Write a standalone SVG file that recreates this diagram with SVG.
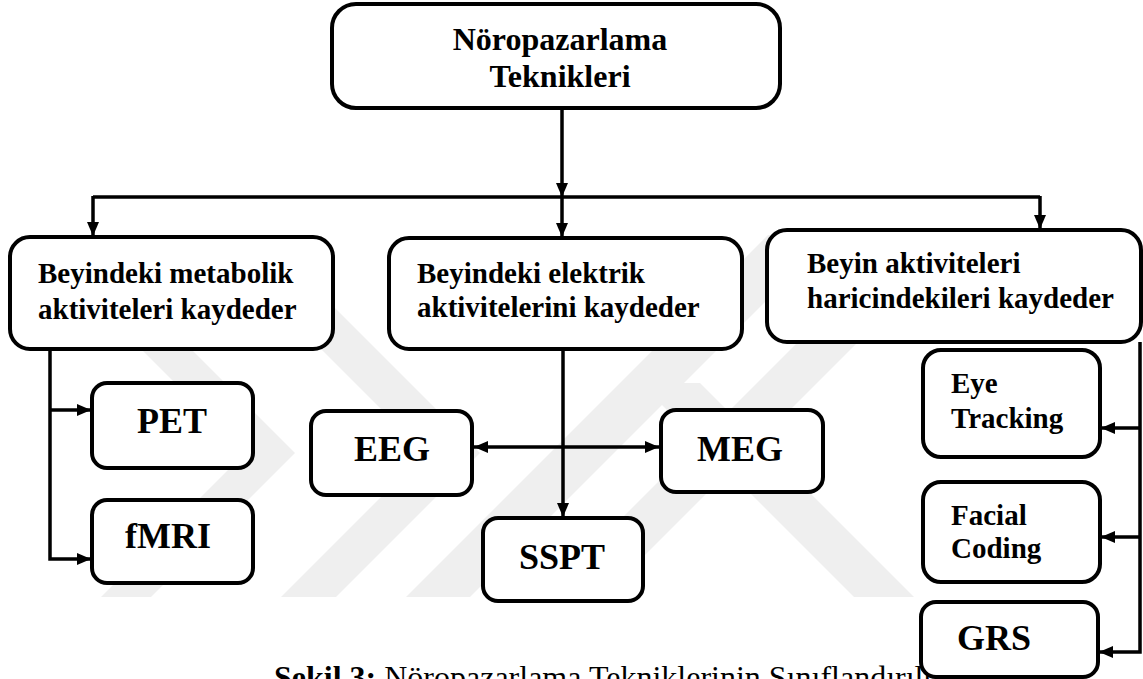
<svg xmlns="http://www.w3.org/2000/svg" width="1143" height="679" viewBox="0 0 1143 679">
<defs>
<style>
.box{fill:#fff;stroke:#000;stroke-width:4}
.wm{fill:#efefef}
.ln{fill:none;stroke:#000;stroke-width:3.5}
.t{font-family:"Liberation Serif","Times New Roman",serif;font-weight:bold;fill:#000}
.g{font-size:29px}
.big{font-size:36px;text-anchor:middle}
.m{font-size:29px}
.cap{font-family:"Liberation Serif","Times New Roman",serif;font-size:32px;fill:#000}
</style>
<marker id="ah" markerWidth="14" markerHeight="12" refX="14" refY="6" orient="auto-start-reverse" markerUnits="userSpaceOnUse">
<path d="M0,0 L14,6 L0,12 z" fill="#000"/>
</marker>
</defs>
<rect width="1143" height="679" fill="#fff"/>
<g id="watermark">
<polygon class="wm" points="27,235 77,235 295,453 151,597 101,597 245,453"/>
<polygon class="wm" points="207,235 262,235 480,453 336,597 281,597 425,453"/>
<polygon class="wm" points="768,235 832,235 470,597 406,597"/>
<polygon class="wm" points="905,235 965,235 603,597 543,597"/>
<polygon class="wm" points="640,383 700,383 914,597 854,597"/>
</g>
<text class="cap" x="274" y="688"><tspan font-weight="bold">Şekil 3:</tspan> Nöropazarlama Tekniklerinin Sınıflandırılması</text>
<g id="connectors">
<line class="ln" x1="562" y1="108" x2="562" y2="197" marker-end="url(#ah)"/>
<line class="ln" x1="93" y1="197" x2="1040" y2="197"/>
<line class="ln" x1="562" y1="197" x2="562" y2="237" marker-end="url(#ah)"/>
<line class="ln" x1="93" y1="196" x2="93" y2="236" marker-end="url(#ah)"/>
<line class="ln" x1="1040" y1="196" x2="1040" y2="229" marker-end="url(#ah)"/>
<polyline class="ln" points="50,349 50,559 91,559" marker-end="url(#ah)"/>
<line class="ln" x1="50" y1="410" x2="91" y2="410" marker-end="url(#ah)"/>
<line class="ln" x1="563" y1="349" x2="563" y2="517" marker-end="url(#ah)"/>
<line class="ln" x1="474" y1="447" x2="659" y2="447" marker-start="url(#ah)" marker-end="url(#ah)"/>
<polyline class="ln" points="1140,342 1140,652 1099,652" marker-end="url(#ah)"/>
<line class="ln" x1="1140" y1="428" x2="1101" y2="428" marker-end="url(#ah)"/>
<line class="ln" x1="1140" y1="537" x2="1101" y2="537" marker-end="url(#ah)"/>
</g>
<g id="n-top">
<rect class="box" x="332" y="4" width="448" height="104" rx="24"/>
<text class="t" x="560" y="50" font-size="32" text-anchor="middle">Nöropazarlama</text>
<text class="t" x="560" y="87" font-size="32" text-anchor="middle">Teknikleri</text>
</g>
<g id="n-metabolik">
<rect class="box" x="10" y="237" width="323" height="112" rx="20"/>
<text class="t g" x="38" y="283">Beyindeki metabolik</text>
<text class="t g" x="38" y="319">aktiviteleri kaydeder</text>
</g>
<g id="n-elektrik">
<rect class="box" x="389" y="238" width="353" height="111" rx="20"/>
<text class="t g" x="417" y="283">Beyindeki elektrik</text>
<text class="t g" x="417" y="317">aktivitelerini kaydeder</text>
</g>
<g id="n-haricinde">
<rect class="box" x="767" y="230" width="374" height="112" rx="20"/>
<text class="t g" x="807" y="273">Beyin aktiviteleri</text>
<text class="t g" x="807" y="308">haricindekileri kaydeder</text>
</g>
<g id="n-pet">
<rect class="box" x="92" y="383" width="161" height="85" rx="15"/>
<text class="t big" x="172" y="433">PET</text>
</g>
<g id="n-fmri">
<rect class="box" x="92" y="500" width="161" height="83" rx="15"/>
<text class="t big" x="168" y="548" font-size="35">fMRI</text>
</g>
<g id="n-eeg">
<rect class="box" x="311" y="411" width="161" height="84" rx="15"/>
<text class="t big" x="392" y="461">EEG</text>
</g>
<g id="n-meg">
<rect class="box" x="661" y="410" width="162" height="82" rx="15"/>
<text class="t big" x="740" y="461">MEG</text>
</g>
<g id="n-sspt">
<rect class="box" x="483" y="518" width="160" height="83" rx="15"/>
<text class="t big" x="562" y="569">SSPT</text>
</g>
<g id="n-eye">
<rect class="box" x="923" y="350" width="177" height="107" rx="18"/>
<text class="t m" x="951" y="393">Eye</text>
<text class="t m" x="951" y="428">Tracking</text>
</g>
<g id="n-facial">
<rect class="box" x="923" y="482" width="177" height="100" rx="18"/>
<text class="t m" x="951" y="525">Facial</text>
<text class="t m" x="951" y="558">Coding</text>
</g>
<g id="n-grs">
<rect class="box" x="921" y="602" width="177" height="75" rx="15"/>
<text class="t" x="957" y="650" font-size="36">GRS</text>
</g>
</svg>
